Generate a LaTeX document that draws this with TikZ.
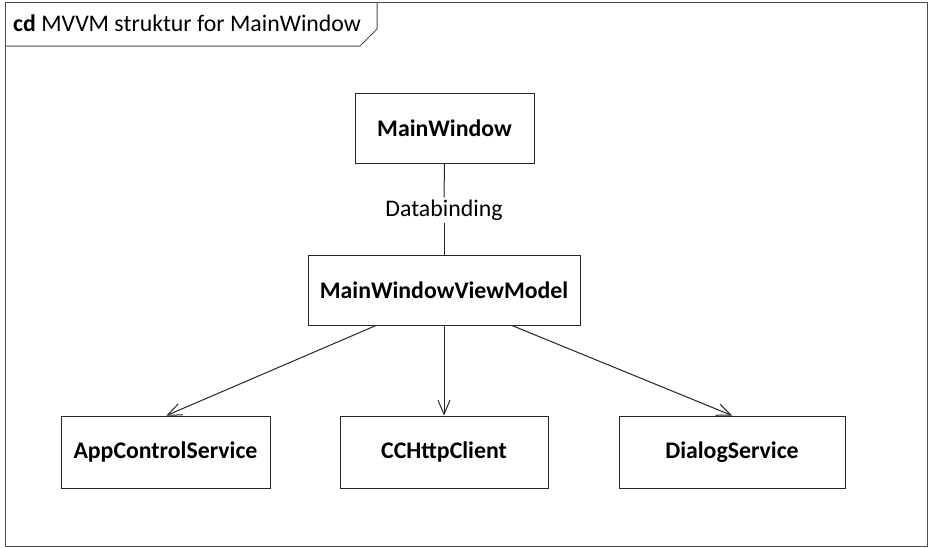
\documentclass[tikz,border=0pt]{standalone}
\usepackage{fontspec}
\setmainfont{Carlito}
\usetikzlibrary{arrows.meta}
\tikzset{
  cls/.style={draw=black!85, line width=1pt, fill=white, inner sep=0pt, font=\fontsize{23.8}{28}\selectfont\bfseries},
  dep/.style={draw=black!85, line width=1pt, -{Straight Barb[length=14pt,width=12pt,line width=1pt]}},
  lnk/.style={draw=black!85, line width=1pt},
  frm/.style={draw=black!70, line width=1pt},
}
\begin{document}
\begin{tikzpicture}[x=1pt,y=-1pt]
\useasboundingbox (0,0) rectangle (929,547);
\fill[white] (0,0) rectangle (929,547);
\draw[frm] (5,2) rectangle (927,546);
\draw[frm] (5,46) -- (360,46) -- (377,29) -- (377,2);
\node[anchor=base west, inner sep=0pt, font=\fontsize{23.8}{28}\selectfont] (title) at (13,31) {\textbf{cd} MVVM struktur for MainWindow};
\node[cls, minimum width=179pt, minimum height=70pt] (mw) at (444.5,128) {MainWindow};
\node[cls, minimum width=272pt, minimum height=70pt] (vm) at (444,290) {MainWindowViewModel};
\node[cls, minimum width=209pt, minimum height=72pt] (acs) at (165.5,452) {AppControlService};
\node[cls, minimum width=208pt, minimum height=72pt] (cc) at (444,452) {CCHttpClient};
\node[cls, minimum width=226pt, minimum height=72pt] (ds) at (732,452) {DialogService};
\node[inner sep=2pt, font=\fontsize{23.8}{28}\selectfont] (db) at (444,210) {Databinding};
\draw[lnk] (mw.south) -- (db.north);
\draw[lnk] (db.south) -- (vm.north);
\draw[dep] ([xshift=-68pt]vm.south) -- ([xshift=1pt]acs.north);
\draw[dep] (vm.south) -- (cc.north);
\draw[dep] ([xshift=68pt]vm.south) -- (ds.north);
\end{tikzpicture}
\end{document}
